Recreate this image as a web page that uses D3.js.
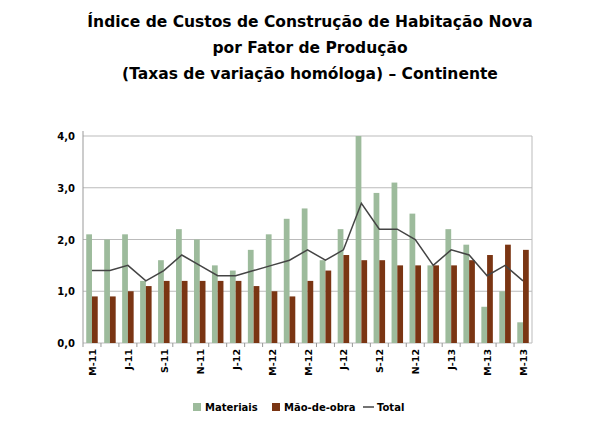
<!DOCTYPE html><html><head><meta charset="utf-8"><script src="https://cdn.jsdelivr.net/npm/d3@7"></script>
<style>body{margin:0;background:#fff}</style></head><body><svg id="c" width="610" height="426"></svg><script>
const months=["M-11","J-11","J-11","A-11","S-11","O-11","N-11","D-11","J-12","F-12","M-12","A-12","M-12","J-12","J-12","A-12","S-12","O-12","N-12","D-12","J-13","F-13","M-13","A-13","M-13"];
const materiais=[2.1,2.0,2.1,1.2,1.6,2.2,2.0,1.5,1.4,1.8,2.1,2.4,2.6,1.6,2.2,4.0,2.9,3.1,2.5,1.5,2.2,1.9,0.7,1.0,0.4];
const maoDeObra=[0.9,0.9,1.0,1.1,1.2,1.2,1.2,1.2,1.2,1.1,1.0,0.9,1.2,1.4,1.7,1.6,1.6,1.5,1.5,1.5,1.5,1.6,1.7,1.9,1.8];
const total=[1.4,1.4,1.5,1.2,1.4,1.7,1.5,1.3,1.3,1.4,1.5,1.6,1.8,1.6,1.8,2.7,2.2,2.2,2.0,1.5,1.8,1.7,1.3,1.5,1.2];
const yTicks=[0,1,2,3,4];
const svg=d3.select("#c");
const F="DejaVu Sans, Verdana, sans-serif";
["Índice de Custos de Construção de Habitação Nova","por Fator de Produção","(Taxas de variação homóloga) – Continente"].forEach((t,i)=>
 svg.append("text").attr("x",310).attr("y",27+i*26).attr("text-anchor","middle").attr("font-family",F).attr("font-weight","bold").attr("font-size",15.5).text(t));
const L=83,R=532,T=136,B=343;
const x=d3.scaleBand().domain(d3.range(months.length)).range([L,R]).paddingInner(0).paddingOuter(0);
const y=d3.scaleLinear().domain([0,4]).range([B,T]);
svg.append("g").selectAll("line").data(yTicks).join("line").attr("x1",L).attr("x2",R).attr("y1",d=>y(d)).attr("y2",d=>y(d)).attr("stroke","#bbb").attr("stroke-width",1.2);
svg.append("line").attr("x1",R).attr("x2",R).attr("y1",T).attr("y2",B).attr("stroke","#bbb");
svg.append("line").attr("x1",L).attr("x2",L).attr("y1",T-5).attr("y2",B).attr("stroke","#999");
svg.append("g").selectAll("text").data(yTicks).join("text").attr("x",L-8).attr("y",d=>y(d)+4).attr("text-anchor","end").attr("font-family",F).attr("font-weight","bold").attr("font-size",10).text(d=>d.toFixed(1).replace(".",","));
const bw=x.bandwidth()*0.32;
svg.append("g").selectAll("rect").data(materiais).join("rect").attr("x",(d,i)=>x(i)+x.bandwidth()*0.18).attr("width",bw).attr("y",d=>y(d)).attr("height",d=>B-y(d)).attr("fill","#9dbb9c");
svg.append("g").selectAll("rect").data(maoDeObra).join("rect").attr("x",(d,i)=>x(i)+x.bandwidth()*0.5).attr("width",bw).attr("y",d=>y(d)).attr("height",d=>B-y(d)).attr("fill","#7a3513");
svg.append("path").datum(total).attr("fill","none").attr("stroke","#444").attr("stroke-width",1.5)
 .attr("d",d3.line().x((d,i)=>x(i)+x.bandwidth()*0.5).y(d=>y(d)));
svg.append("g").selectAll("line").data(months).join("line").attr("x1",(d,i)=>x(i)).attr("x2",(d,i)=>x(i)).attr("y1",B).attr("y2",B+4).attr("stroke","#999");
svg.append("g").selectAll("text").data(months.map((m,i)=>[m,i]).filter(d=>d[1]%2==0)).join("text")
 .attr("transform",d=>`translate(${x(d[1])+x.bandwidth()/2+4},${B+6}) rotate(-90)`).attr("text-anchor","end")
 .attr("font-family",F).attr("font-weight","bold").attr("font-size",9.5).text(d=>d[0]);
const lg=svg.append("g").attr("font-family",F).attr("font-weight","bold").attr("font-size",10);
lg.append("rect").attr("x",193).attr("y",403).attr("width",8).attr("height",8).attr("fill","#9dbb9c");
lg.append("text").attr("x",205).attr("y",411).text("Materiais");
lg.append("rect").attr("x",272).attr("y",403).attr("width",8).attr("height",8).attr("fill","#7a3513");
lg.append("text").attr("x",284).attr("y",411).text("Mão-de-obra");
lg.append("line").attr("x1",363).attr("x2",374).attr("y1",407).attr("y2",407).attr("stroke","#444").attr("stroke-width",1.5);
lg.append("text").attr("x",377).attr("y",411).text("Total");
</script></body></html>
